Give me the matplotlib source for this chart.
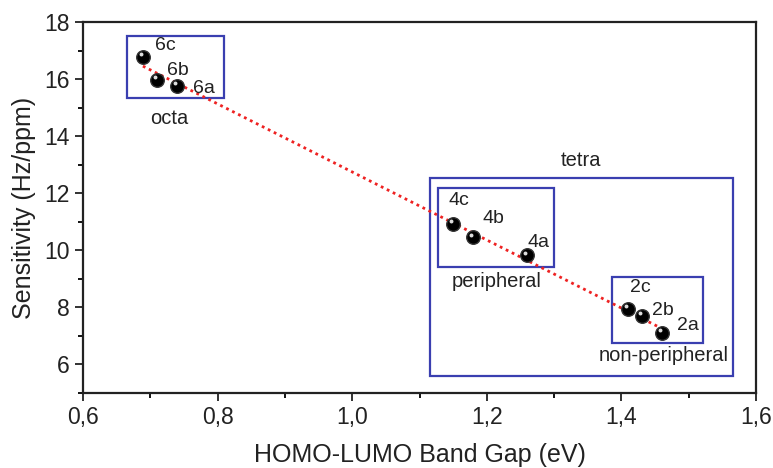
import numpy as np
import matplotlib.pyplot as plt
from matplotlib.patches import Rectangle

plt.rcParams['font.family'] = ['Liberation Sans', 'DejaVu Sans']

# data
labels = ['6c', '6b', '6a', '4c', '4b', '4a', '2c', '2b', '2a']
gap = [0.689, 0.710, 0.740, 1.150, 1.179, 1.260, 1.410, 1.431, 1.460]
sens = [16.78, 15.97, 15.76, 10.92, 10.45, 9.82, 7.96, 7.69, 7.09]
# label offsets (centre) in points
label_off = [(16, 8), (15, 7), (19, -1.5), (4, 17), (15, 14), (8, 9), (9, 15), (15, 4), (19, 6)]

x_ticks = [0.6, 0.8, 1.0, 1.2, 1.4, 1.6]
x_ticklabels = ['0,6', '0,8', '1,0', '1,2', '1,4', '1,6']
y_ticks = [6, 8, 10, 12, 14, 16, 18]

# group boxes: (x0, y0, x1, y1), label, label position
boxes = [
    ((0.665, 15.34, 0.810, 17.51), 'octa', (0.728, 14.63)),
    ((1.116, 5.59, 1.566, 12.55), 'tetra', (1.340, 13.14)),
    ((1.127, 9.40, 1.300, 12.20), 'peripheral', (1.214, 8.90)),
    ((1.386, 6.74, 1.521, 9.08), 'non-peripheral', (1.463, 6.33)),
]

fig = plt.figure(figsize=(7.73, 4.68), dpi=100)
ax = fig.add_axes([0.1074, 0.1603, 0.8706, 0.7927])

# linear fit
p = np.polyfit(gap, sens, 1)
xf = np.array([min(gap), max(gap)])
ax.plot(xf, np.polyval(p, xf), color='#ee2222', linestyle=(0, (1, 1.4)), lw=2.0, zorder=2)

ax.scatter(gap, sens, s=95, color='black', edgecolors='#333333', zorder=3)
ax.scatter(np.array(gap) - 0.003, np.array(sens) + 0.1, s=8, color='#dddddd', zorder=4, lw=0)

for lab, x, y, off in zip(labels, gap, sens, label_off):
    ax.annotate(lab, (x, y), xytext=off, textcoords='offset points', fontsize=14,
                color='#222222', ha='center', va='center')

for (x0, y0, x1, y1), txt, (tx, ty) in boxes:
    ax.add_patch(Rectangle((x0, y0), x1 - x0, y1 - y0, fill=False, edgecolor='#3a3fb0', lw=1.6, zorder=1))
    ax.text(tx, ty, txt, fontsize=14.5, color='#222222', ha='center', va='center')

ax.set_xlim(0.6, 1.6)
ax.set_ylim(5, 18)
ax.set_xticks(x_ticks)
ax.set_xticklabels(x_ticklabels)
ax.set_yticks(y_ticks)
ax.set_xticks(np.arange(0.7, 1.6, 0.2), minor=True)
ax.set_yticks(np.arange(5, 18, 2), minor=True)
ax.tick_params(which='major', direction='out', length=6, width=1.3, labelsize=16.5, colors='#222222')
ax.tick_params(which='minor', direction='out', length=3.5, width=1.3)
for s in ax.spines.values():
    s.set_linewidth(1.6)
    s.set_color('#222222')

ax.set_xlabel('HOMO-LUMO Band Gap (eV)', fontsize=18, color='#222222', labelpad=10)
ax.set_ylabel('Sensitivity (Hz/ppm)', fontsize=18, color='#222222', labelpad=6)

fig.savefig('out.png', dpi=100)
